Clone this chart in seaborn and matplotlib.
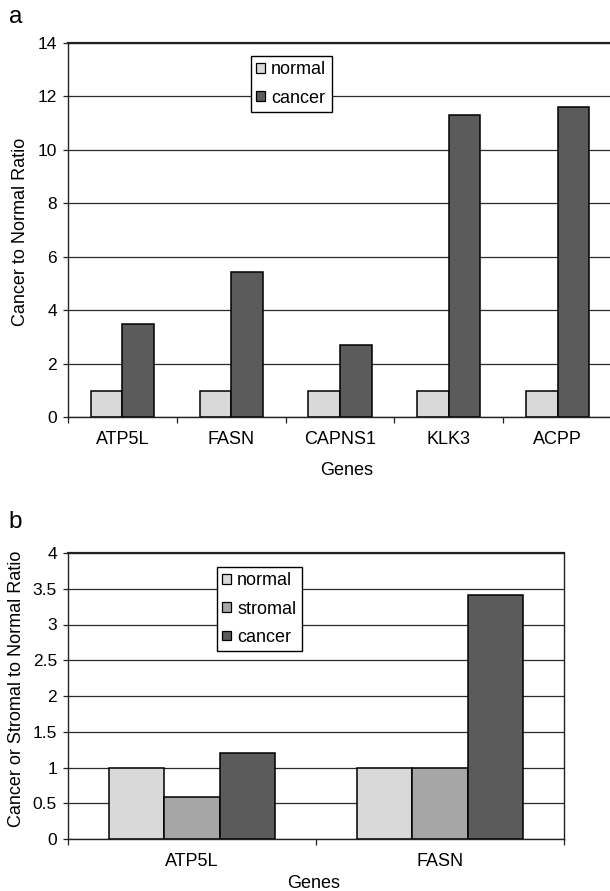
import numpy as np
import pandas as pd
import matplotlib
matplotlib.use("Agg")
import matplotlib.pyplot as plt
import seaborn as sns
from matplotlib.patches import Patch

# ---- data (panel a) ----
genes_a = ["ATP5L", "FASN", "CAPNS1", "KLK3", "ACPP"]
normal_a = [0.97, 0.97, 0.97, 0.97, 0.97]
cancer_a = [3.48, 5.42, 2.71, 11.29, 11.61]
yticks_a = [0, 2, 4, 6, 8, 10, 12, 14]

# ---- data (panel b) ----
genes_b = ["ATP5L", "FASN"]
normal_b = [1.0, 1.0]
stromal_b = [0.59, 1.0]
cancer_b = [1.2, 3.41]
yticks_b = [0, 0.5, 1, 1.5, 2, 2.5, 3, 3.5, 4]
ytick_labels_b = ["0", "0.5", "1", "1.5", "2", "2.5", "3", "3.5", "4"]

colors = {"normal": "#d9d9d9", "stromal": "#a6a6a6", "cancer": "#5b5b5b"}

sns.set_style("white")
plt.rcParams["font.family"] = ["Liberation Sans", "DejaVu Sans"]
plt.rcParams["text.color"] = "black"
plt.rcParams["xtick.color"] = "black"
plt.rcParams["ytick.color"] = "black"
plt.rcParams["axes.labelcolor"] = "black"

W, H = 610, 891
fig = plt.figure(figsize=(W / 100, H / 100), dpi=100)


def fx(px):
    return px / W


def fy(py):
    return 1 - py / H


def style_axes(ax, n, ylim, yticks, ylabels, right_spine):
    ax.set_ylim(*ylim)
    ax.set_xlim(-0.5, n - 0.5)
    ax.set_yticks(yticks)
    ax.set_yticklabels(ylabels, fontsize=12.5, color="black")
    ax.set_xticks(np.arange(-0.5, n + 0.5), minor=True)
    ax.tick_params(axis="x", which="major", length=0, pad=10, labelsize=13,
                   labelcolor="black")
    ax.tick_params(axis="x", which="minor", length=4.3, width=0.9,
                   direction="out", color="#222222", bottom=True)
    ax.tick_params(axis="y", which="major", length=3.6, width=0.9,
                   direction="out", color="#222222", pad=4.3, left=True)
    ax.yaxis.grid(True, color="#2a2a2a", linewidth=0.9)
    ax.xaxis.grid(False)
    ax.set_axisbelow(True)
    for s in ["left", "bottom"]:
        ax.spines[s].set_color("#222222")
        ax.spines[s].set_linewidth(1.0)
    ax.spines["top"].set_color("#222222")
    ax.spines["top"].set_linewidth(1.6)
    ax.spines["top"].set_visible(True)
    if right_spine:
        ax.spines["right"].set_color("#222222")
        ax.spines["right"].set_linewidth(1.0)
        ax.spines["right"].set_visible(True)
    else:
        ax.spines["right"].set_visible(False)
    ax.set_xlabel("")
    ax.set_ylabel("")


# ---- panel a ----
ax1 = fig.add_axes([fx(68), fy(417), fx(612 - 68), (417 - 43) / H])
df_a = pd.DataFrame({
    "gene": genes_a * 2,
    "group": ["normal"] * len(genes_a) + ["cancer"] * len(genes_a),
    "value": normal_a + cancer_a,
})
sns.barplot(data=df_a, x="gene", y="value", hue="group",
            hue_order=["normal", "cancer"], order=genes_a,
            palette=colors, width=0.58, edgecolor="black", linewidth=1.1,
            errorbar=None, legend=False, ax=ax1, saturation=1)
style_axes(ax1, len(genes_a), (0, 14), yticks_a, [str(v) for v in yticks_a], False)

leg1 = ax1.legend(handles=[Patch(facecolor=colors[k], edgecolor="black", linewidth=0.9, label=k)
                           for k in ["normal", "cancer"]],
                  loc="upper left", bbox_to_anchor=(fx(251), fy(56)),
                  bbox_transform=fig.transFigure, fontsize=13, frameon=True,
                  fancybox=False, framealpha=1, edgecolor="black",
                  handlelength=0.45, handleheight=0.45, handletextpad=0.37,
                  borderpad=0.3, labelspacing=0.62, borderaxespad=0)
leg1.get_frame().set_linewidth(1.0)

fig.text(fx(21), fy(231.5), "Cancer to Normal Ratio", rotation=90,
         ha="center", va="center", fontsize=13)
fig.text(fx(347), fy(475), "Genes", ha="center", va="baseline", fontsize=13)
fig.text(fx(9), fy(23), "a", ha="left", va="baseline", fontsize=17.5)

# ---- panel b ----
ax2 = fig.add_axes([fx(68), fy(839), fx(564 - 68), (839 - 553) / H])
df_b = pd.DataFrame({
    "gene": genes_b * 3,
    "group": ["normal"] * 2 + ["stromal"] * 2 + ["cancer"] * 2,
    "value": normal_b + stromal_b + cancer_b,
})
sns.barplot(data=df_b, x="gene", y="value", hue="group",
            hue_order=["normal", "stromal", "cancer"], order=genes_b,
            palette=colors, width=0.67, edgecolor="black", linewidth=1.1,
            errorbar=None, legend=False, ax=ax2, saturation=1)
style_axes(ax2, len(genes_b), (0, 4), yticks_b, ytick_labels_b, True)

leg2 = ax2.legend(handles=[Patch(facecolor=colors[k], edgecolor="black", linewidth=0.9, label=k)
                           for k in ["normal", "stromal", "cancer"]],
                  loc="upper left", bbox_to_anchor=(fx(217), fy(567)),
                  bbox_transform=fig.transFigure, fontsize=13, frameon=True,
                  fancybox=False, framealpha=1, edgecolor="black",
                  handlelength=0.45, handleheight=0.45, handletextpad=0.37,
                  borderpad=0.3, labelspacing=0.62, borderaxespad=0)
leg2.get_frame().set_linewidth(1.0)

fig.text(fx(17), fy(689), "Cancer or Stromal to Normal Ratio", rotation=90,
         ha="center", va="center", fontsize=13)
fig.text(fx(314), fy(888), "Genes", ha="center", va="baseline", fontsize=13)
fig.text(fx(8), fy(528), "b", ha="left", va="baseline", fontsize=17.5)

fig.savefig("out.png", dpi=100)
